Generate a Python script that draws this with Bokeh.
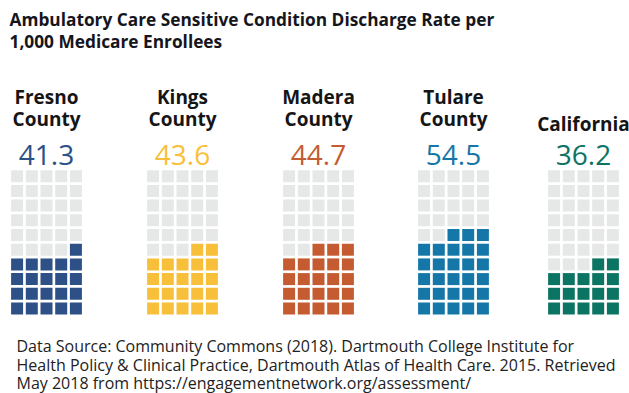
from bokeh.plotting import figure
from bokeh.models import Range1d, ColumnDataSource
from bokeh.core.properties import value
from bokeh.embed import file_html
from bokeh.resources import INLINE

# Data
regions = ["Fresno County", "Kings County", "Madera County", "Tulare County", "California"]
rates = [41.3, 43.6, 44.7, 54.5, 36.2]
filled_cells = [21, 22, 23, 28, 17]          # highlighted cells out of 50
colors = ["#2d5086", "#f8bf3a", "#c45b31", "#1577a7", "#0c7462"]
title_lines = ["Ambulatory Care Sensitive Condition Discharge Rate per",
               "1,000 Medicare Enrollees"]
source_lines = ["Data Source: Community Commons (2018). Dartmouth College Institute for",
                "Health Policy & Clinical Practice, Dartmouth Atlas of Health Care. 2015. Retrieved",
                "May 2018 from https://engagementnetwork.org/assessment/"]

# Layout (pixel space)
W, H = 629, 393
group_centers = [46, 182, 318, 453, 583]
n_cols, n_rows = 5, 10
pitch = 14.7
cell = 12
grid_bottom = 308          # centre of the lowest row
empty_color = "#e6e7e7"
font = "Open Sans"

p = figure(width=W, height=H, x_range=Range1d(0, W), y_range=Range1d(H, 0),
           output_backend="svg", toolbar_location=None, min_border=0)
p.axis.visible = False
p.grid.visible = False
p.outline_line_color = None
p.background_fill_color = "white"
p.border_fill_color = "white"

# Waffle cells: filled from the bottom row up, each row filled from the right
xs, ys, fills = [], [], []
for gi, (cx, n_fill, col) in enumerate(zip(group_centers, filled_cells, colors)):
    for k in range(n_cols * n_rows):
        row = k // n_cols
        pos = k % n_cols
        c = n_cols - 1 - pos
        x = cx + (c - (n_cols - 1) / 2) * pitch
        y = grid_bottom - row * pitch
        xs.append(x)
        ys.append(y)
        fills.append(col if k < n_fill else empty_color)
p.rect(x="x", y="y", width=cell, height=cell, fill_color="c", line_color=None,
       source=ColumnDataSource(dict(x=xs, y=ys, c=fills)))

# Region labels
l_x, l_y, l_t = [], [], []
for cx, name in zip(group_centers, regions):
    parts = name.split(" ")
    if len(parts) == 1:
        l_x.append(cx); l_y.append(123); l_t.append(name)
    else:
        l_x += [cx, cx]; l_y += [96, 118]; l_t += parts
p.text(x=l_x, y=l_y, text=l_t, text_font=value(font), text_font_style="bold",
       text_font_size="19px", text_color="#151515", text_align="center",
       text_baseline="alphabetic")

# Rate values
p.text(x=group_centers, y=[154] * len(rates), text=[f"{r:.1f}" for r in rates],
       text_font=value(font), text_font_size="28px", text_color=colors,
       text_align="center", text_baseline="alphabetic")

# Title
p.text(x=[9, 9], y=[19, 41], text=title_lines, text_font=value(font),
       text_font_style="bold", text_font_size="17.3px", text_color="#151520",
       text_align="left", text_baseline="alphabetic")

# Source note
p.text(x=[16] * 3, y=[345, 364, 382], text=source_lines, text_font=value(font),
       text_font_size="16px", text_color="#222222", text_align="left",
       text_baseline="alphabetic")

open("out.html", "w").write(file_html(p, INLINE))
